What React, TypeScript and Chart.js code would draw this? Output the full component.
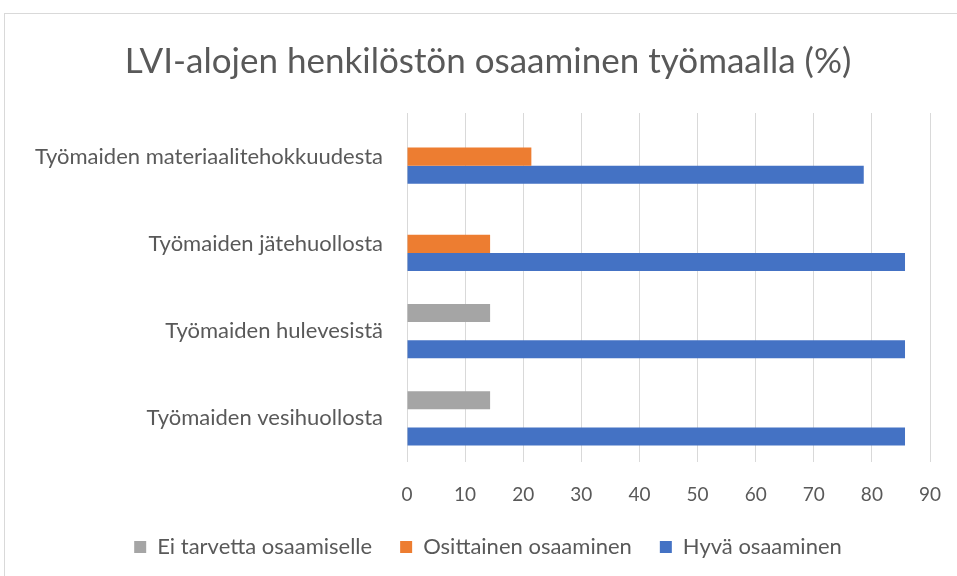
import React, { useEffect, useRef } from "react";
import { Chart, registerables } from "chart.js";

Chart.register(...registerables);

const categories = [
  "Työmaiden materiaalitehokkuudesta",
  "Työmaiden jätehuollosta",
  "Työmaiden hulevesistä",
  "Työmaiden vesihuollosta",
];
const eiTarvetta = [0, 0, 14.3, 14.3];
const osittainen = [21.4, 14.3, 0, 0];
const hyva = [78.6, 85.7, 85.7, 85.7];
const xTicks = [0, 10, 20, 30, 40, 50, 60, 70, 80, 90];

const FONT = "Lato, 'Open Sans', sans-serif";
const TEXT = "#595959";

export default function App() {
  const ref = useRef<HTMLCanvasElement | null>(null);
  useEffect(() => {
    if (!ref.current) return;
    const chart = new Chart(ref.current, {
      type: "bar",
      data: {
        labels: categories,
        datasets: [
          { label: "Ei tarvetta osaamiselle", data: eiTarvetta, backgroundColor: "#A5A5A5" },
          { label: "Osittainen osaaminen", data: osittainen, backgroundColor: "#ED7D31" },
          { label: "Hyvä osaaminen", data: hyva, backgroundColor: "#4472C4" },
        ],
      },
      options: {
        indexAxis: "y",
        animation: false,
        responsive: false,
        maintainAspectRatio: false,
        layout: { padding: { left: 0, right: 0, top: 0, bottom: 24 } },
        datasets: { bar: { categoryPercentage: 0.62, barPercentage: 1 } },
        scales: {
          x: {
            min: 0,
            max: 90,
            afterBuildTicks: (scale: any) => {
              scale.ticks = xTicks.map((v) => ({ value: v }));
            },
            grid: { color: "#d9d9d9", lineWidth: 1, drawTicks: false },
            border: { display: false },
            ticks: { color: TEXT, font: { family: FONT, size: 19 }, padding: 21 },
            afterFit: (scale: any) => {
              scale.height = 46;
            },
          },
          y: {
            grid: { display: false, drawTicks: false },
            border: { display: false },
            ticks: { color: TEXT, font: { family: FONT, size: 22 }, padding: 24 },
            afterFit: (scale: any) => {
              scale.width = 402;
            },
          },
          yPad: {
            type: "linear",
            axis: "y",
            position: "right",
            grid: { display: false, drawTicks: false },
            border: { display: false },
            ticks: { display: false },
            afterFit: (scale: any) => {
              scale.width = 41;
            },
          },
        },
        plugins: {
          title: {
            display: true,
            text: "LVI-alojen henkilöstön osaaminen työmaalla (%)",
            color: TEXT,
            font: { family: FONT, size: 35, weight: "normal" },
            padding: { top: 27, bottom: 30 },
          },
          legend: {
            position: "bottom",
            labels: {
              color: TEXT,
              font: { family: FONT, size: 22 },
              boxWidth: 12,
              boxHeight: 12,
              padding: 28,
            },
          },
          tooltip: { enabled: false },
        },
      },
    });
    return () => chart.destroy();
  }, []);
  return (
    <div style={{ position: "fixed", left: 0, top: 0, width: 957, height: 576, overflow: "hidden", background: "#fff" }}>
      <div
        style={{
          position: "absolute",
          left: 4,
          top: 13,
          width: 968,
          height: 580,
          border: "1px solid #d9d9d9",
          boxSizing: "border-box",
        }}
      >
        <canvas ref={ref} width={966} height={578} style={{ display: "block" }} />
      </div>
    </div>
  );
}
